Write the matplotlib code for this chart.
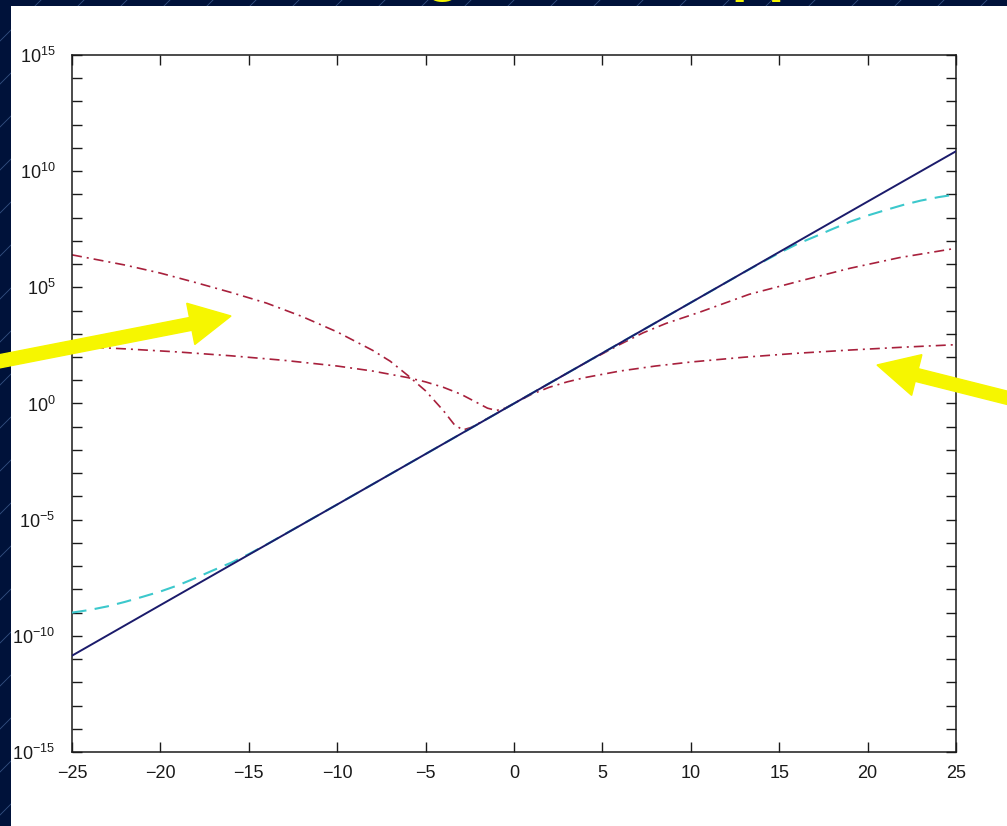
import matplotlib
matplotlib.use("Agg")
import matplotlib.pyplot as plt
import numpy as np
from matplotlib.patches import FancyArrow, Rectangle
from matplotlib.lines import Line2D
from matplotlib.transforms import IdentityTransform
from matplotlib.ticker import FixedLocator, FuncFormatter, NullLocator

plt.rcParams['font.family'] = ['Liberation Sans', 'DejaVu Sans']

# exp(x), solid navy line
exp_x = [-25, -20, -15, -10, -5, 0, 5, 10, 15, 20, 25]
exp_y = [1.4e-11, 2.1e-9, 3.1e-7, 4.5e-5, 6.7e-3, 1.0, 148, 2.2e4, 3.3e6, 4.9e8, 7.2e10]

# cyan dashed approximation
cyan_x = [-25, -24, -23, -22, -21, -20, -19, -18, -17, -16, -15, -14, -13, -10, -5, 0,
          5, 10, 13, 14, 15, 16, 17, 18, 19, 20, 21, 22, 23, 24, 25]
cyan_y = [1.0e-9, 1.3e-9, 1.85e-9, 2.9e-9, 4.8e-9, 8.1e-9, 1.5e-8, 3.1e-8, 6.7e-8, 1.4e-7,
          3.3e-7, 8.5e-7, 2.3e-6, 4.5e-5, 6.7e-3, 1.0,
          148, 2.2e4, 4.4e5, 1.17e6, 3.0e6, 7.2e6, 1.5e7, 3.2e7, 6.6e7, 1.23e8, 2.1e8,
          3.5e8, 5.4e8, 7.6e8, 1.0e9]

# red dash-dot, higher order polynomial (with the dip near x = -3)
red_hi_x = [-25, -22, -20, -18, -16, -14, -12, -10, -8, -7, -6, -5, -4, -3.4, -2.9, -2.4,
            -1, 0, 2, 4, 6, 7.3, 8.6, 10.5, 13.3, 16.2, 19, 21.8, 25]
red_hi_y = [2.5e6, 9.1e5, 4.1e5, 1.6e5, 6.0e4, 2.1e4, 5.6e3, 1.2e3, 195, 66, 16, 3.5, 0.5,
            0.13, 0.072, 0.095, 0.37, 1.0, 7.4, 54, 350, 1.1e3, 2.8e3, 8.5e3, 5.0e4,
            1.9e5, 6.6e5, 1.9e6, 4.8e6]

# red dash-dot, low order polynomial
red_lo_x = [-25, -22, -19, -16, -13, -10, -8, -6, -5, -4, -3, -2, -1.5, -1, -0.5, 0,
            1, 2, 3, 4, 6, 8, 10, 13, 16, 19, 22, 25]
red_lo_y = [290, 225, 165, 113, 72, 41, 25, 13, 8.5, 5, 2.5, 1.0, 0.63, 0.5, 0.63, 1.0,
            2.5, 5, 8.5, 13, 25, 41, 61, 98, 145, 200, 265, 340]

x_ticks = [-25, -20, -15, -10, -5, 0, 5, 10, 15, 20, 25]
y_decades = list(range(-15, 16))

fig = plt.figure(figsize=(10.07, 8.26), dpi=100, facecolor="#00123a")

# slide background: thin diagonal lines, then the white panel
for c in range(-1000, 1100, 43):
    fig.add_artist(Line2D([c, c + 1000], [0, 1000], color="#4a6aa0", lw=0.6, alpha=0.7,
                          transform=IdentityTransform(), zorder=-3))
fig.add_artist(Rectangle((11, 0), 1000, 820, facecolor="white", edgecolor="none",
                         transform=IdentityTransform(), zorder=-2))

# slide title, only the bottom of its descenders is in view
fig.text(0.31, 1.0125, "Range of the Approximation", color="#f4f400", fontsize=43,
         fontweight="bold", ha="left", va="baseline", zorder=-1)

ax = fig.add_axes([72 / 1007, 1 - 752 / 826, (956 - 72) / 1007, (752 - 55) / 826])
ax.set_facecolor("white")

ax.plot(exp_x, exp_y, color="#1b1b6b", lw=1.4, zorder=4)
ax.plot(cyan_x, cyan_y, color="#3cc8cc", lw=1.5, linestyle=(0, (7, 4)), zorder=3)
ax.plot(red_hi_x, red_hi_y, color="#a8203c", lw=1.2, linestyle=(0, (6, 3, 1.2, 3)), zorder=2)
ax.plot(red_lo_x, red_lo_y, color="#a8203c", lw=1.2, linestyle=(0, (6, 3, 1.2, 3)), zorder=2)

ax.set_yscale("log")
ax.set_xlim(-25, 25)
ax.set_ylim(1e-15, 1e15)

ax.xaxis.set_major_locator(FixedLocator(x_ticks))
ax.yaxis.set_major_locator(FixedLocator([10.0 ** d for d in y_decades]))
ax.yaxis.set_minor_locator(NullLocator())


def ylab(v, pos):
    d = int(round(np.log10(v)))
    if d % 5 == 0:
        return r"$\mathdefault{10^{%d}}$" % d
    return ""


ax.yaxis.set_major_formatter(FuncFormatter(ylab))

ax.tick_params(axis='both', which='major', direction='in', length=7, width=1,
               top=True, right=True, labelsize=13, colors="#1a1a1a")
ax.tick_params(axis='x', pad=9)
ax.tick_params(axis='y', pad=12)
for s in ax.spines.values():
    s.set_linewidth(1.1)
    s.set_color("#1a1a1a")

# yellow arrows pointing at the red curves
arrow_kw = dict(width=13, head_width=42, head_length=41, length_includes_head=True,
                color="#f6f600", transform=IdentityTransform(), zorder=6)
fig.add_artist(FancyArrow(-4, 826 - 362, 235, 46, **arrow_kw))
fig.add_artist(FancyArrow(1012, 826 - 399, -135, 34, **arrow_kw))

fig.savefig("out.png", dpi=100, facecolor=fig.get_facecolor())
